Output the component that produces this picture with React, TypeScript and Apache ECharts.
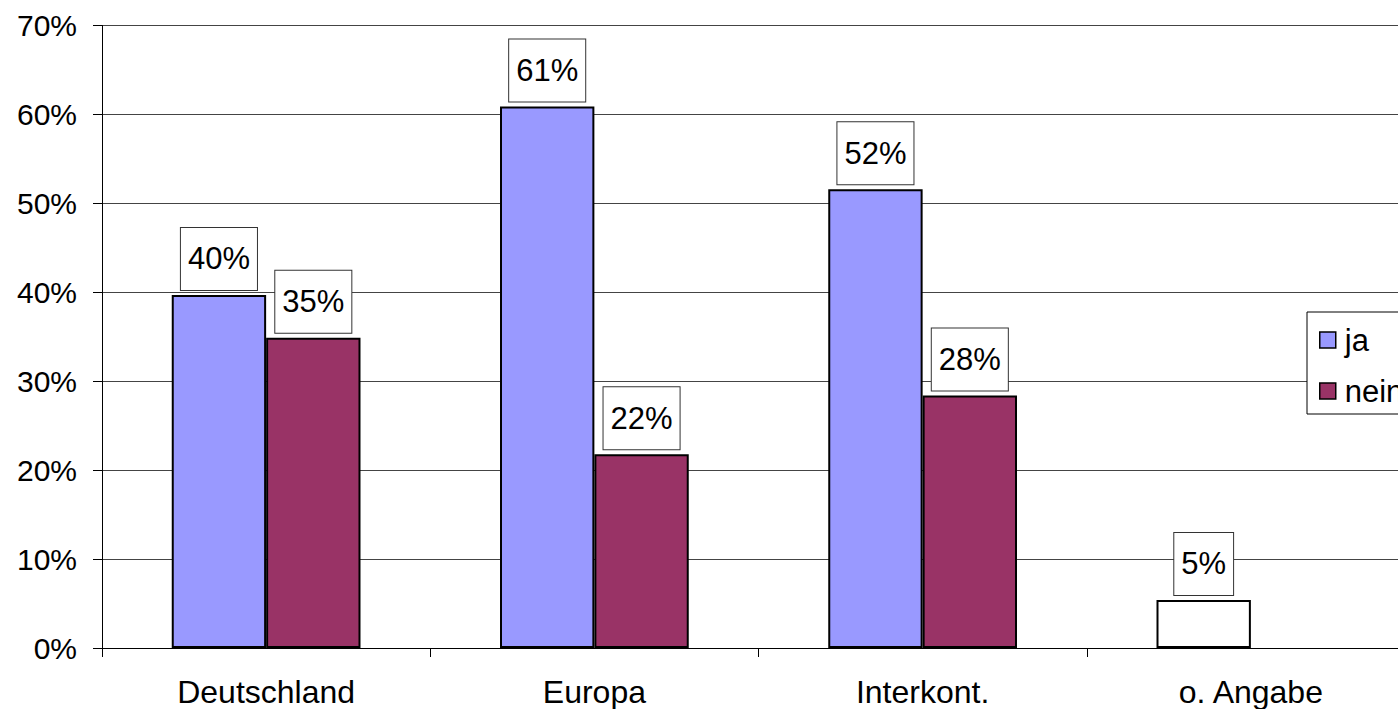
import React, { useEffect, useRef } from "react";
import * as echarts from "echarts";

const categories = ["Deutschland", "Europa", "Interkont.", "o. Angabe"];
const jaValues = [39.7, 60.9, 51.6, 5.4];
const neinValues = [34.9, 21.8, 28.4, null];
const seriesNames = ["ja", "nein"];
const yTicks = [0, 10, 20, 30, 40, 50, 60, 70];
const whiteCategory = "o. Angabe";

const FONT = "'Liberation Sans', Arial, sans-serif";

export default function App() {
  const ref = useRef<HTMLDivElement>(null);
  useEffect(() => {
    if (!ref.current) return;
    const chart = echarts.init(ref.current, undefined, { renderer: "svg" });
    const labelCfg = {
      show: true,
      position: "top",
      distance: 5,
      formatter: (p: any) => Math.round(p.value) + "%",
      fontFamily: FONT,
      fontSize: 31,
      color: "#000",
      backgroundColor: "#fff",
      borderColor: "#333",
      borderWidth: 1,
      padding: [14, 7, 14, 7],
      lineHeight: 34,
    };
    chart.setOption({
      animation: false,
      backgroundColor: "#fff",
      textStyle: { fontFamily: FONT },
      grid: { left: 102, top: 25.5, width: 1313, height: 622.5, containLabel: false },
      legend: {
        orient: "vertical",
        left: 1307,
        top: 312,
        data: seriesNames,
        itemWidth: 16,
        itemHeight: 16,
        itemGap: 17,
        icon: "rect",
        borderColor: "#000",
        borderWidth: 1,
        backgroundColor: "#fff",
        padding: [11, 20, 6, 12],
        textStyle: {
          fontFamily: FONT,
          fontSize: 31,
          color: "#000",
          lineHeight: 34,
          padding: [0, 0, 0, 4],
        },
        itemStyle: { borderColor: "#000", borderWidth: 1.5 },
      },
      xAxis: {
        type: "category",
        data: categories,
        axisLine: { show: true, lineStyle: { color: "#000", width: 1 } },
        axisTick: { show: true, length: 9, lineStyle: { color: "#000" } },
        axisLabel: { fontFamily: FONT, fontSize: 32, color: "#000", margin: 28 },
        splitLine: { show: false },
      },
      yAxis: {
        type: "value",
        min: yTicks[0],
        max: yTicks[yTicks.length - 1],
        interval: 10,
        axisLine: { show: true, lineStyle: { color: "#000", width: 1 } },
        axisTick: { show: true, length: 9, lineStyle: { color: "#000" } },
        axisLabel: {
          fontFamily: FONT,
          fontSize: 30,
          color: "#000",
          margin: 25,
          formatter: (v: number) => v + "%",
        },
        splitLine: { show: true, lineStyle: { color: "#444", width: 1 } },
      },
      series: [
        {
          name: seriesNames[0],
          type: "bar",
          data: jaValues.map((v, i) =>
            categories[i] === whiteCategory
              ? { value: v, itemStyle: { color: "#fff" } }
              : v
          ),
          barGap: "0%",
          barCategoryGap: "42.5%",
          itemStyle: { color: "#9999FF", borderColor: "#000", borderWidth: 2 },
          label: labelCfg,
        },
        {
          name: seriesNames[1],
          type: "bar",
          data: neinValues,
          barGap: "0%",
          barCategoryGap: "42.5%",
          itemStyle: { color: "#993366", borderColor: "#000", borderWidth: 2 },
          label: labelCfg,
        },
      ],
    });
    return () => chart.dispose();
  }, []);
  return (
    <div
      style={{
        position: "absolute",
        left: 0,
        top: 0,
        width: 1398,
        height: 709,
        overflow: "hidden",
        background: "#fff",
      }}
    >
      <div ref={ref} style={{ width: 1440, height: 709 }} />
    </div>
  );
}
